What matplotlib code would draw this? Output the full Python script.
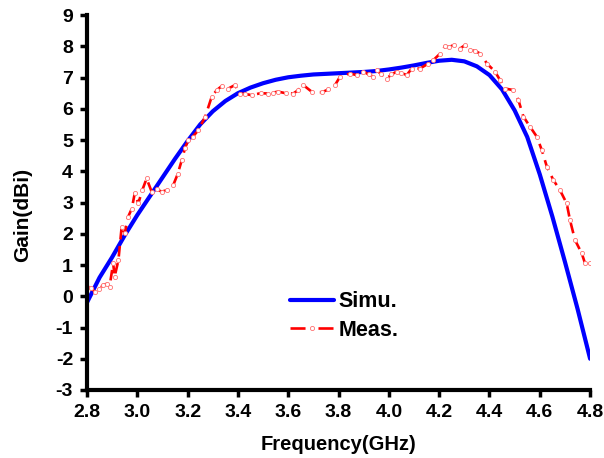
import matplotlib
matplotlib.use("Agg")
import matplotlib.pyplot as plt
from matplotlib.lines import Line2D

# Simulated gain
sim_freq = [2.80, 2.85, 2.90, 2.95, 3.00, 3.05, 3.10, 3.15, 3.20, 3.25, 3.30, 3.35,
            3.40, 3.45, 3.50, 3.55, 3.60, 3.65, 3.70, 3.75, 3.80, 3.85, 3.90, 3.95,
            4.00, 4.05, 4.10, 4.15, 4.20, 4.25, 4.30, 4.35, 4.40, 4.45, 4.50, 4.55,
            4.60, 4.65, 4.70, 4.75, 4.80]
sim_gain = [-0.2, 0.6, 1.25, 1.95, 2.6, 3.2, 3.8, 4.4, 4.97, 5.5, 5.92, 6.25,
            6.5, 6.68, 6.82, 6.93, 7.01, 7.06, 7.1, 7.12, 7.14, 7.16, 7.18, 7.21,
            7.26, 7.32, 7.39, 7.47, 7.54, 7.57, 7.52, 7.36, 7.08, 6.62, 5.95, 5.1,
            3.9, 2.55, 1.1, -0.4, -2.0]

# Measured gain
meas_freq = [2.800, 2.816, 2.832, 2.848, 2.864, 2.880, 2.890, 2.904, 2.910, 2.925,
             2.938, 2.950, 2.964, 2.978, 2.990, 3.004, 3.020, 3.037, 3.057, 3.077,
             3.097, 3.120, 3.143, 3.160, 3.177, 3.190, 3.203, 3.220, 3.243, 3.270,
             3.296, 3.316, 3.336, 3.362, 3.388, 3.408, 3.430, 3.455, 3.490, 3.520,
             3.540, 3.560, 3.590, 3.620, 3.640, 3.660, 3.693, 3.733, 3.760, 3.786,
             3.806, 3.846, 3.872, 3.899, 3.920, 3.938, 3.952, 3.970, 3.992, 4.010,
             4.031, 4.050, 4.071, 4.091, 4.124, 4.157, 4.177, 4.204, 4.223, 4.240,
             4.257, 4.283, 4.303, 4.323, 4.343, 4.363, 4.390, 4.422, 4.442, 4.462,
             4.495, 4.515, 4.535, 4.561, 4.588, 4.608, 4.628, 4.654, 4.680, 4.707,
             4.720, 4.740, 4.767, 4.780, 4.800]
meas_gain = [0.31, 0.25, 0.15, 0.22, 0.36, 0.40, 0.31, 1.06, 0.63, 1.16,
             2.23, 2.02, 2.55, 2.80, 3.30, 2.97, 3.40, 3.77, 3.35, 3.42,
             3.35, 3.40, 3.56, 3.90, 4.36, 4.75, 5.00, 5.10, 5.32, 5.75,
             6.39, 6.60, 6.73, 6.65, 6.76, 6.49, 6.47, 6.44, 6.50, 6.49,
             6.52, 6.55, 6.50, 6.49, 6.60, 6.76, 6.55, 6.53, 6.62, 6.76,
             7.03, 7.13, 7.08, 7.19, 7.10, 7.03, 7.24, 7.10, 6.97, 7.10,
             7.19, 7.15, 7.08, 7.29, 7.29, 7.45, 7.56, 7.77, 8.00, 7.98,
             8.04, 7.93, 8.04, 7.88, 7.85, 7.77, 7.45, 7.19, 6.92, 6.65,
             6.60, 6.28, 5.75, 5.43, 5.11, 4.68, 4.15, 3.72, 3.40, 2.97,
             2.44, 1.80, 1.37, 1.05, 1.05]

x_ticks = [2.8, 3.0, 3.2, 3.4, 3.6, 3.8, 4.0, 4.2, 4.4, 4.6, 4.8]
y_ticks = list(range(-3, 10))
labels = ['Simu.', 'Meas.']

plt.rcParams['font.family'] = ['Liberation Sans', 'DejaVu Sans']
plt.rcParams['font.weight'] = 'bold'
plt.rcParams['axes.unicode_minus'] = False

fig = plt.figure(figsize=(6.04, 4.58), dpi=100)
ax = fig.add_axes([0.144, 0.1485, 0.833, 0.8185])

sim_line, = ax.plot(sim_freq, sim_gain, color='#0000ff', lw=3.0, solid_capstyle='round')
ax.plot(meas_freq, meas_gain, color='#ff0000', lw=1.9, ls=(0, (4, 2.5)), marker='o', ms=3,
        mfc='white', mec='#ff7070', mew=0.6)

# legend proxy matching the reference's "— o —" look
meas_proxy = Line2D([], [], color='#ff0000', lw=1.9, ls=(0, (5.7, 4.9)), marker='o', ms=3,
                    mfc='white', mec='#ff7070', mew=0.6)

ax.set_xlim(2.8, 4.8)
ax.set_ylim(-3, 9)
ax.set_xticks(x_ticks)
ax.set_xticklabels([f"{t:.1f}" for t in x_ticks])
ax.set_yticks(y_ticks)

for s in ['top', 'right']:
    ax.spines[s].set_visible(False)
for s in ['left', 'bottom']:
    ax.spines[s].set_linewidth(3)
ax.tick_params(direction='out', length=5, width=2.5, labelsize=14, pad=5)
for lab in ax.get_xticklabels() + ax.get_yticklabels():
    lab.set_fontweight('bold')

ax.set_xlabel('Frequency(GHz)', fontsize=14.5, fontweight='bold', labelpad=10)
ax.set_ylabel('Gain(dBi)', fontsize=15, fontweight='bold')
ax.yaxis.set_label_coords(-0.109, 0.468)

leg = ax.legend([sim_line, meas_proxy], labels, loc='upper left',
                bbox_to_anchor=(0.366, 0.315), frameon=False,
                fontsize=15.5, handlelength=2.0, numpoints=1, labelspacing=0.35,
                handletextpad=0.25, borderpad=0.4)
for t in leg.get_texts():
    t.set_fontweight('bold')

fig.savefig('out.png', dpi=100)
